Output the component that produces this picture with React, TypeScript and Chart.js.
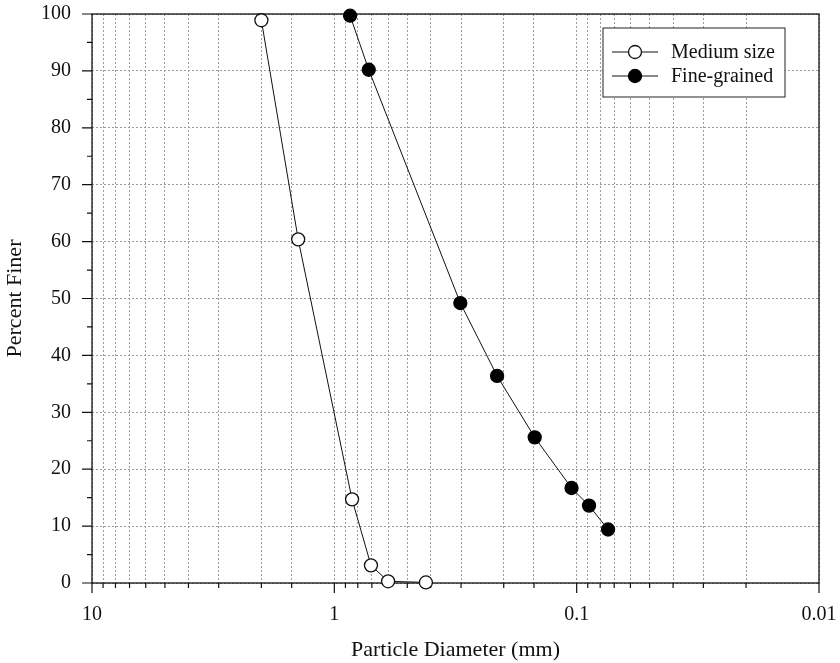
import React, { useEffect, useRef } from "react";
import { Chart, registerables } from "chart.js";

Chart.register(...registerables);

// Sieve results: particle diameter (mm) vs. cumulative percent finer
const mediumDiameters = [2.0, 1.41, 0.845, 0.706, 0.6, 0.419];
const mediumFiner = [98.9, 60.4, 14.7, 3.1, 0.3, 0.1];

const fineDiameters = [0.861, 0.721, 0.302, 0.213, 0.149, 0.105, 0.0889, 0.0742];
const fineFiner = [99.7, 90.2, 49.2, 36.4, 25.6, 16.7, 13.6, 9.4];

const seriesLabels = ["Medium size", "Fine-grained"];
const xRange = [0.01, 10];
const yRange = [0, 100];

const SERIF = "'Liberation Serif', 'Times New Roman', Times, serif";

const isDecade = (v: number) => {
  const l = Math.log10(v);
  return Math.abs(l - Math.round(l)) < 1e-6;
};

const formatDecade = (v: number) => {
  const e = Math.round(Math.log10(v));
  return e >= 0 ? String(Math.pow(10, e)) : Math.pow(10, e).toFixed(-e);
};

// Fixed axis box sizes; drop the label overhang padding so the plot area is set by layout.padding alone
const fixAxis = (size: { width?: number; height?: number }) => (scale: any) => {
  if (size.width !== undefined) scale.width = size.width;
  if (size.height !== undefined) scale.height = size.height;
  scale.paddingTop = 0;
  scale.paddingBottom = 0;
  scale.paddingLeft = 0;
  scale.paddingRight = 0;
};

// Solid frame around the plot plus outward tick marks (long at majors, short at minors)
const frameTicksPlugin = {
  id: "frameTicks",
  beforeDatasetsDraw(chart: any) {
    const { ctx, chartArea } = chart;
    const { left, right, top, bottom } = chartArea;
    const xs = chart.scales.x;
    const ys = chart.scales.y;
    ctx.save();
    ctx.strokeStyle = "#111";
    ctx.lineWidth = 1.3;
    ctx.setLineDash([]);
    ctx.strokeRect(left, top, right - left, bottom - top);
    ctx.lineWidth = 1.2;
    ctx.beginPath();
    xs.ticks.forEach((t: any) => {
      const px = xs.getPixelForValue(t.value);
      const len = isDecade(t.value) ? 10 : 5;
      ctx.moveTo(px, bottom);
      ctx.lineTo(px, bottom + len);
    });
    ys.ticks.forEach((t: any) => {
      const py = ys.getPixelForValue(t.value);
      const len = t.value % 10 === 0 ? 10 : 5;
      ctx.moveTo(left, py);
      ctx.lineTo(left - len, py);
    });
    ctx.stroke();
    ctx.restore();
  },
};

// Boxed legend in the upper right of the plot area
const boxLegendPlugin = {
  id: "boxLegend",
  afterDatasetsDraw(chart: any) {
    const { ctx, chartArea } = chart;
    const boxW = 182;
    const boxH = 69;
    const bx = chartArea.right - 34 - boxW;
    const by = chartArea.top + 14;
    ctx.save();
    ctx.fillStyle = "#fff";
    ctx.fillRect(bx, by, boxW, boxH);
    ctx.strokeStyle = "#222";
    ctx.lineWidth = 1;
    ctx.strokeRect(bx, by, boxW, boxH);
    chart.data.datasets.forEach((ds: any, i: number) => {
      const cy = by + 24 + i * 24;
      ctx.strokeStyle = ds.borderColor;
      ctx.lineWidth = ds.borderWidth;
      ctx.beginPath();
      ctx.moveTo(bx + 9, cy);
      ctx.lineTo(bx + 55, cy);
      ctx.stroke();
      ctx.beginPath();
      ctx.arc(bx + 32, cy, ds.pointRadius, 0, Math.PI * 2);
      ctx.fillStyle = ds.pointBackgroundColor;
      ctx.fill();
      ctx.lineWidth = ds.pointBorderWidth;
      ctx.strokeStyle = ds.pointBorderColor;
      ctx.stroke();
      ctx.fillStyle = "#111";
      ctx.font = `20px ${SERIF}`;
      ctx.textAlign = "left";
      ctx.textBaseline = "middle";
      ctx.fillText(ds.label, bx + 68, cy + 1);
    });
    ctx.restore();
  },
};

export default function App() {
  const canvasRef = useRef<HTMLCanvasElement | null>(null);

  useEffect(() => {
    if (!canvasRef.current) return;
    const toPoints = (xs: number[], ys: number[]) => xs.map((x, i) => ({ x, y: ys[i] }));
    const chart = new Chart(canvasRef.current, {
      type: "line",
      data: {
        datasets: [
          {
            label: seriesLabels[0],
            data: toPoints(mediumDiameters, mediumFiner),
            borderColor: "#111",
            borderWidth: 1,
            pointRadius: 6.5,
            pointBackgroundColor: "#fff",
            pointBorderColor: "#111",
            pointBorderWidth: 1.3,
            tension: 0,
            clip: false,
          },
          {
            label: seriesLabels[1],
            data: toPoints(fineDiameters, fineFiner),
            borderColor: "#111",
            borderWidth: 1,
            pointRadius: 6.5,
            pointBackgroundColor: "#000",
            pointBorderColor: "#000",
            pointBorderWidth: 1.3,
            tension: 0,
            clip: false,
          },
        ],
      },
      options: {
        animation: false,
        responsive: false,
        maintainAspectRatio: false,
        layout: { padding: { top: 14, right: 21, bottom: 0, left: 0 } },
        plugins: {
          legend: { display: false },
          tooltip: { enabled: false },
        },
        scales: {
          x: {
            type: "logarithmic",
            reverse: true,
            min: xRange[0],
            max: xRange[1],
            afterFit: fixAxis({ height: 80 }),
            grid: {
              color: "#9c9c9c",
              lineWidth: 1,
              drawTicks: false,
            },
            border: { display: false, dash: [2, 2] },
            ticks: {
              autoSkip: false,
              maxRotation: 0,
              padding: 20,
              color: "#111",
              font: { family: SERIF, size: 20 },
              callback: (v: any) => (isDecade(Number(v)) ? formatDecade(Number(v)) : ""),
            },
            title: {
              display: true,
              text: "Particle Diameter (mm)",
              color: "#111",
              font: { family: SERIF, size: 22 },
              padding: { top: 0, bottom: 0 },
            },
          },
          y: {
            type: "linear",
            min: yRange[0],
            max: yRange[1],
            afterFit: fixAxis({ width: 92 }),
            grid: {
              color: (c: any) => (c.tick && c.tick.value % 10 === 0 ? "#9c9c9c" : "rgba(0,0,0,0)"),
              lineWidth: 1,
              drawTicks: false,
            },
            border: { display: false, dash: [2, 2] },
            ticks: {
              stepSize: 5,
              autoSkip: false,
              padding: 21,
              color: "#111",
              font: { family: SERIF, size: 20 },
              callback: (v: any) => (Number(v) % 10 === 0 ? String(v) : ""),
            },
            title: {
              display: true,
              text: "Percent Finer",
              color: "#111",
              font: { family: SERIF, size: 22 },
              padding: { top: 2.5, bottom: 0 },
            },
          },
        },
      },
      plugins: [frameTicksPlugin, boxLegendPlugin],
    });
    return () => chart.destroy();
  }, []);

  return (
    <div style={{ position: "absolute", left: 0, top: 0, width: 840, height: 663, background: "#fff" }}>
      <canvas ref={canvasRef} width={840} height={663} style={{ display: "block" }} />
    </div>
  );
}
